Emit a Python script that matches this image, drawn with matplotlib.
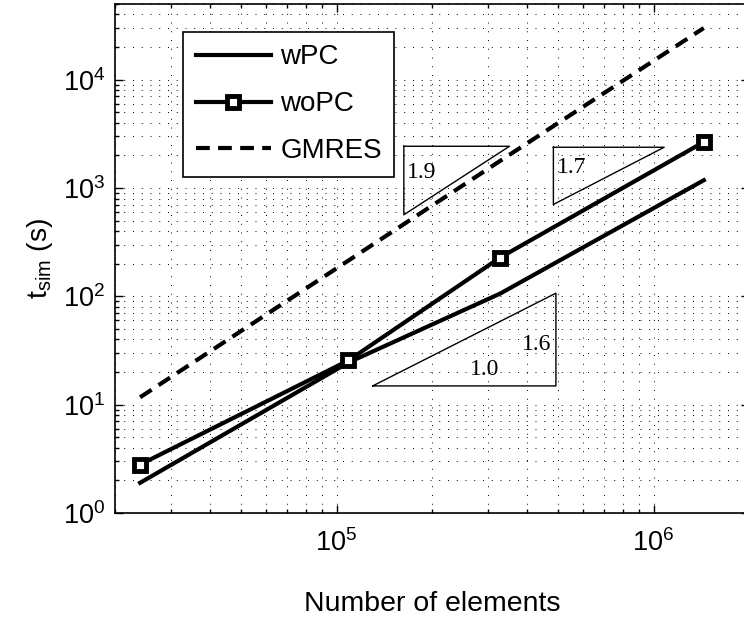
import numpy as np
import matplotlib
matplotlib.use('Agg')
from matplotlib import pyplot as plt
from matplotlib.ticker import LogLocator, NullFormatter

plt.rcParams['font.family'] = 'Liberation Sans'
plt.rcParams['mathtext.fontset'] = 'custom'
plt.rcParams['mathtext.rm'] = 'Liberation Sans'
plt.rcParams['mathtext.it'] = 'Liberation Sans:italic'
plt.rcParams['mathtext.default'] = 'regular'

# data
n_elem = [2.4e4, 1.09e5, 3.28e5, 1.44e6]
t_wpc = [1.9, 24.5, 106, 1180]
t_wopc = [2.8, 25.6, 228, 2660]
t_gmres = [11.7, 214, 1780, 30000]

# slope triangles: (x corners, y corners, label, label position)
tri_19_x = [1.63e5, 3.51e5, 1.63e5, 1.63e5]
tri_19_y = [2430, 2430, 566, 2430]
tri_17_x = [4.83e5, 1.08e6, 4.83e5, 4.83e5]
tri_17_y = [2380, 2380, 705, 2380]
tri_16_x = [1.30e5, 4.92e5, 4.92e5, 1.30e5]
tri_16_y = [14.9, 14.9, 107, 14.9]
tri_labels = ['1.9', '1.7', '1.6', '1.0']
tri_label_x = [1.86e5, 5.51e5, 4.28e5, 2.93e5]
tri_label_y = [1390, 1545, 36.1, 21.2]

fig = plt.figure(figsize=(7.44, 6.23), dpi=100)
ax = fig.add_axes([115 / 744, 110 / 623, 634 / 744, 509 / 623])

ax.loglog(n_elem, t_wpc, 'k-', lw=3, label='wPC')
ax.loglog(n_elem, t_wopc, 'k-', lw=3, marker='s', ms=8, mfc='white',
          mec='k', mew=3.5, label='woPC')
ax.loglog(n_elem, t_gmres, 'k--', lw=3, dashes=(3.3, 2.0), label='GMRES')

for tx, ty in [(tri_19_x, tri_19_y), (tri_17_x, tri_17_y), (tri_16_x, tri_16_y)]:
    ax.plot(tx, ty, 'k-', lw=1)
for lab, lx, ly in zip(tri_labels, tri_label_x, tri_label_y):
    ax.text(lx, ly, lab, family='Liberation Serif', fontsize=17,
            ha='center', va='center')

ax.set_xlim(2e4, 2e6)
ax.set_ylim(1, 5e4)
ax.xaxis.set_major_locator(LogLocator(base=10, numticks=10))
ax.yaxis.set_major_locator(LogLocator(base=10, numticks=10))
ax.xaxis.set_minor_locator(LogLocator(base=10, subs=np.arange(2, 10), numticks=20))
ax.yaxis.set_minor_locator(LogLocator(base=10, subs=np.arange(2, 10), numticks=20))
ax.xaxis.set_minor_formatter(NullFormatter())
ax.yaxis.set_minor_formatter(NullFormatter())
ax.grid(True, which='both', color='k', linestyle=(0, (1, 8)), linewidth=0.7)
ax.tick_params(which='both', direction='in', top=True, right=True,
               labelsize=19.5, width=1)
ax.tick_params(which='major', length=6)
ax.tick_params(which='minor', length=3)
ax.tick_params(axis='x', pad=12)
ax.tick_params(axis='y', pad=7)
for s in ax.spines.values():
    s.set_linewidth(1.2)

ax.set_xlabel('Number of elements', fontsize=20.5, labelpad=24)
ax.set_ylabel('$t_{sim}$ (s)', fontsize=20.5, labelpad=6)

leg = ax.legend(loc='upper left', bbox_to_anchor=(183 / 744, 1 - 32 / 623),
                bbox_transform=fig.transFigure, borderaxespad=0, fontsize=20,
                handlelength=2.7, handletextpad=0.35, labelspacing=0.75,
                fancybox=False, framealpha=1, edgecolor='k', borderpad=0.45)
leg.get_frame().set_linewidth(1.2)

fig.savefig('out.png', dpi=100)
